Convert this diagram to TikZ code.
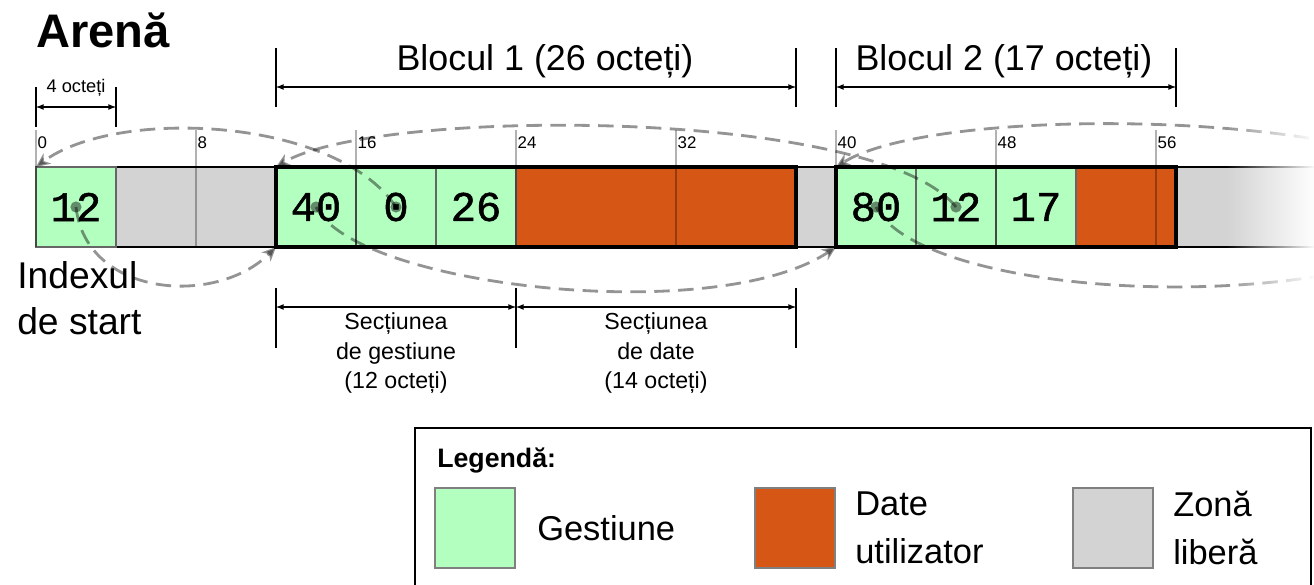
\documentclass[tikz,border=0pt]{standalone}
\usepackage{fontspec}
\setmainfont{Liberation Sans}
\newfontfamily\cellfont[FakeBold=1.2]{Liberation Mono}
\usepackage{tikz}
\usetikzlibrary{arrows,arrows.meta,fadings}
\definecolor{gest}{RGB}{179,255,192}
\definecolor{date}{RGB}{214,86,22}
\definecolor{liber}{RGB}{211,211,211}
\tikzfading[name=spredreapta,left color=transparent!100,right color=transparent!0]

\begin{document}
\begin{tikzpicture}[x=.5cm,y=.5cm,
  gestcell/.style={draw=black!60,fill=gest,line width=1pt,minimum width=2cm,minimum height=2cm,inner sep=0pt,outer sep=0pt,font=\cellfont\fontsize{30}{30}\selectfont},
  datecell/.style={draw=black!60,fill=date,line width=1pt,minimum height=2cm,inner sep=0pt,outer sep=0pt},
  bloc/.style={line width=3pt},
  reper/.style={draw=black,draw opacity=.3,line width=.8pt},
  reperlbl/.style={anchor=base west,inner sep=1pt,font=\fontsize{12}{12}\selectfont},
  cota/.style={latex-latex,line width=.9pt},
  cotatick/.style={line width=1.1pt},
  ptr/.style={draw=black,opacity=.42,line width=2pt,dash pattern=on 11pt off 6pt,-{Stealth[length=10pt,width=9pt,inset=3pt]}},
  ptrdot/.style={fill=black,fill opacity=.45}]%
\useasboundingbox (-1.8,-20.85) rectangle (63.9,8.35);
%% bara arenei
\fill[liber] (0,0) rectangle (64,-4);
\draw[line width=1.2pt] (0,0)--(64,0) (0,-4)--(64,-4);
\begin{scope}%
\node[gestcell] (idx) at (2,-2) {12}; %%
\node[gestcell] (b1next) at (14,-2) {40}; %%
\node[gestcell] (b1prev) at (18,-2) {0}; %%
\node[gestcell] (b1size) at (22,-2) {26}; %%
\node[datecell,minimum width=7cm] (b1data) at (31,-2) {}; %%
\node[gestcell] (b2next) at (42,-2) {80}; %%
\node[gestcell] (b2prev) at (46,-2) {12}; %%
\node[gestcell] (b2size) at (50,-2) {17}; %%
\node[datecell,minimum width=2.5cm] (b2data) at (54.5,-2) {}; %%
\end{scope}
%% repere la 8 octeti
\draw[reper] (0,1.85)--(0,-4); \node[reperlbl] (r0) at (0,.95) {0}; %%
\draw[reper] (8,1.85)--(8,-4); \node[reperlbl] (r8) at (8,.95) {8}; %%
\draw[reper] (16,1.85)--(16,-4); \node[reperlbl] (r16) at (16,.95) {16}; %%
\draw[reper] (24,1.85)--(24,-4); \node[reperlbl] (r24) at (24,.95) {24}; %%
\draw[reper] (32,1.85)--(32,-4); \node[reperlbl] (r32) at (32,.95) {32}; %%
\draw[reper] (40,1.85)--(40,-4); \node[reperlbl] (r40) at (40,.95) {40}; %%
\draw[reper] (48,1.85)--(48,-4); \node[reperlbl] (r48) at (48,.95) {48}; %%
\draw[reper] (56,1.85)--(56,-4); \node[reperlbl] (r56) at (56,.95) {56}; %%
\draw[bloc] (b1next.north west) rectangle (b1data.south east); %%
\draw[bloc] (b2next.north west) rectangle (b2data.south east); %%
%% legaturi
\coordinate (urmnext) at (70,-4);
\coordinate (urmprev) at (66,1);
\draw[ptr] (idx.center) .. controls (2.5,-6.5) and (9,-7) .. (b1next.south west); %%
\draw[ptr] (b1next.center) .. controls (16,-6) and (34,-8) .. (b2next.south west); %%
\draw[ptr] (b1prev.center) .. controls (15,2.5) and (4,3) .. (idx.north west); %%
\draw[ptr] (b2prev.center) .. controls (42,3) and (17,3) .. (b1next.north west); %%
\draw[ptr] (b2next.center) .. controls (44,-6) and (60,-7.5) .. (urmnext); %%
\draw[ptr] (urmprev) .. controls (58,2.8) and (44,2.5) .. (b2next.north west); %%
\fill[ptrdot] (idx.center) circle (.28); %%
\fill[ptrdot] (b1next.center) circle (.28); %%
\fill[ptrdot] (b1prev.center) circle (.28); %%
\fill[ptrdot] (b2next.center) circle (.28); %%
\fill[ptrdot] (b2prev.center) circle (.28); %%
\fill[white,path fading=spredreapta] (59.5,3) rectangle (64,-7.5);
%% cote
\node[anchor=base west,font=\bfseries\fontsize{33.5}{33.5}\selectfont,inner sep=0pt] (arena) at (0,6) {Arenă};%
\coordinate (q0s) at (0,3); \coordinate (q4s) at (4,3);
\draw[cotatick] (0,4)--(0,2) (4,4)--(4,2);
\draw[cota] (q0s)--(q4s);
\node[anchor=base,font=\fontsize{13}{13}\selectfont] (lat4) at (2,3.75) {4 octeți};%
\coordinate (q12s) at (12,4); \coordinate (q38s) at (38,4);
\coordinate (q40s) at (40,4); \coordinate (q57s) at (57,4);
\draw[cotatick] (12,5.95)--(12,3) (38,5.95)--(38,3) (40,5.95)--(40,3) (57,5.95)--(57,3);
\draw[cota] (q12s)--(q38s);
\draw[cota] (q40s)--(q57s);
\node[anchor=base,font=\fontsize{25.5}{25.5}\selectfont] (bloc1) at (25.45,4.85) {Blocul 1 (26 octeți)};%
\node[anchor=base,font=\fontsize{25.5}{25.5}\selectfont] (bloc2) at (48.4,4.85) {Blocul 2 (17 octeți)};%
\coordinate (q12j) at (12,-7); \coordinate (q24j) at (24,-7); \coordinate (q38j) at (38,-7);
\draw[cotatick] (12,-6.05)--(12,-9.05) (24,-6.05)--(24,-9.05) (38,-6.05)--(38,-9.05);
\draw[cota] (q12j)--(q24j);
\draw[cota] (q24j)--(q38j);
\node[anchor=north,align=center,inner sep=0pt,font=\fontsize{16.5}{21.3}\selectfont] (secgest) at (18,-7.25) {Secțiunea\\de gestiune\\(12 octeți)};%
\node[anchor=north,align=center,inner sep=0pt,font=\fontsize{16.5}{21.3}\selectfont] (secdate) at (31,-7.25) {Secțiunea\\de date\\(14 octeți)};%
\node[anchor=north west,align=left,inner sep=0pt,font=\fontsize{26.5}{32.7}\selectfont] (start) at (-.95,-4.7) {Indexul\\de start};%
%% legenda
\draw[line width=2pt] (18.95,-13.05) rectangle (63.75,-22);
\node[anchor=base west,inner sep=0pt,font=\bfseries\fontsize{19}{19}\selectfont] (leg) at (20.05,-15) {Legendă:};%
\begin{scope}[minimum width=2cm,minimum height=2cm,inner sep=0pt,draw=black!50,line width=1pt]%
\node[fill=gest,draw] (lgest) at (21.95,-18.05) {}; %%
\node[fill=date,draw] (ldate) at (37.95,-18.05) {}; %%
\node[fill=liber,draw] (lliber) at (53.85,-18.05) {}; %%
\end{scope}
\begin{scope}[anchor=west,align=left,inner sep=0pt,font=\fontsize{24.5}{34}\selectfont]%
\node (tgest) at (25.05,-18.05) {Gestiune}; %%
\node (tdate) at (40.95,-18.05) {Date\\utilizator}; %%
\node (tliber) at (56.85,-18.05) {Zonă\\liberă}; %%
\end{scope}
\end{tikzpicture}
\end{document}
